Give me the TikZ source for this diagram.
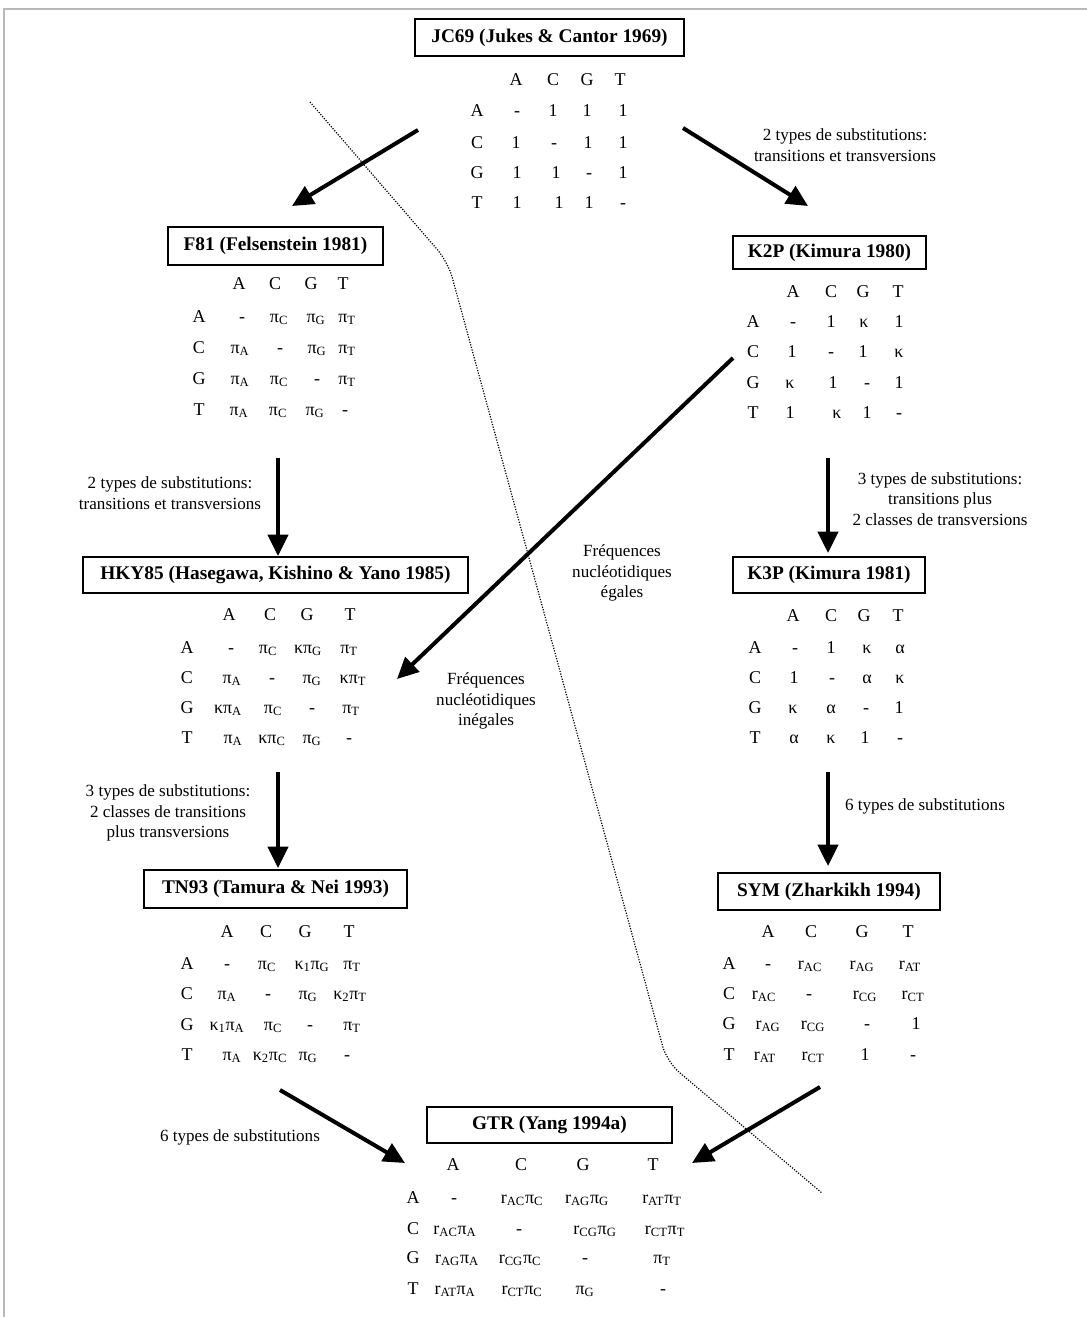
\documentclass[tikz,border=0pt]{standalone}
\usepackage{fontspec}
\setmainfont{Liberation Serif}
\usetikzlibrary{arrows.meta}
\newcommand\pis[1]{π\textsubscript{#1}}
\newcommand\rsub[1]{r\textsubscript{#1}}
\newcommand\mhead[3]{\foreach \l/\x in {#3} \node[cell] (#1h\l) at (\x,#2) {\l};}
\newcommand\mrow[5]{%
  \node[cell] (#1#2) at (#3,#4) {#2};
  \foreach \e/\x [count=\k] in {#5} \node[cell] (#1#2\k) at (\x,#4) {\e};}
\begin{document}
\begin{tikzpicture}[x=0.75pt,y=-0.75pt,
  cell/.style={anchor=base,inner sep=0pt,font=\fontsize{13.5}{16}\selectfont},
  model/.style 2 args={draw,line width=1.1pt,inner sep=0pt,minimum width=#1*0.75pt,minimum height=#2*0.75pt,font=\bfseries\fontsize{14.5}{17}\selectfont},
  lab/.style={align=center,inner sep=0pt,font=\fontsize{12.8}{15.4}\selectfont},
  arr/.style={line width=3pt,-{Triangle[length=16pt,width=15pt]}},
  sep/.style={line width=0.9pt,dash pattern=on 0.9pt off 1.1pt,rounded corners=12pt}]
\fill[white] (0,0) rectangle (1087,1317);
\useasboundingbox (0,0) rectangle (1087,1317);
\draw[gray!55,line width=1.5pt] (4,1317) -- (4,8.5) -- (1087,8.5);

% separating dotted line
\draw[sep] (310,102) -- (448,262) -- (667,1062) -- (822,1193);

% model boxes
\node[model={269}{37}] (jc) at (549.5,37.5) {JC69 (Jukes \& Cantor 1969)};
\node[model={215}{38}] (f81) at (275.5,246) {F81 (Felsenstein 1981)};
\node[model={193}{33}] (k2p) at (829.5,252.5) {K2P (Kimura 1980)};
\node[model={385}{36}] (hky) at (275.5,575) {HKY85 (Hasegawa, Kishino \& Yano 1985)};
\node[model={192}{36}] (k3p) at (829,575) {K3P (Kimura 1981)};
\node[model={263}{38}] (tn) at (275.5,889) {TN93 (Tamura \& Nei 1993)};
\node[model={222}{37}] (sym) at (829,891.5) {SYM (Zharkikh 1994)};
\node[model={245}{36}] (gtr) at (549.5,1125) {GTR (Yang 1994a)};

% JC69 matrix
\mhead{jc}{85}{A/516,C/553,G/587,T/620}
\mrow{jc}{A}{477}{116}{-/517,1/553,1/587,1/623}
\mrow{jc}{C}{477}{148}{1/516,-/554,1/588,1/623}
\mrow{jc}{G}{477}{178}{1/517,1/556,-/589,1/623}
\mrow{jc}{T}{477}{208}{1/517,1/559,1/589,-/623}

% F81 matrix
\mhead{fe}{289}{A/239,C/275,G/311,T/343}
\mrow{fe}{A}{199}{322}{-/242,\pis{C}/279,\pis{G}/316,\pis{T}/347}
\mrow{fe}{C}{199}{353}{\pis{A}/240,-/280,\pis{G}/317,\pis{T}/347}
\mrow{fe}{G}{199}{384}{\pis{A}/240,\pis{C}/279,-/317,\pis{T}/347}
\mrow{fe}{T}{199}{415}{\pis{A}/239,\pis{C}/278,\pis{G}/315,-/345}

% K2P matrix
\mhead{kb}{297}{A/793,C/831,G/863,T/898}
\mrow{kb}{A}{753}{327}{-/793,1/831,κ/864,1/899}
\mrow{kb}{C}{753}{357}{1/792,-/831,1/863,κ/899}
\mrow{kb}{G}{753}{388}{κ/790,1/833,-/867,1/899}
\mrow{kb}{T}{753}{418}{1/790,κ/837,1/867,-/899}

% HKY85 matrix
\mhead{hk}{620}{A/229,C/270,G/307,T/350}
\mrow{hk}{A}{187}{653}{-/231,\pis{C}/268,κ\pis{G}/308,\pis{T}/349}
\mrow{hk}{C}{187}{683}{\pis{A}/232,-/272,\pis{G}/312,κ\pis{T}/353}
\mrow{hk}{G}{187}{713}{κ\pis{A}/228,\pis{C}/273,-/312,\pis{T}/351}
\mrow{hk}{T}{187}{743}{\pis{A}/233,κ\pis{C}/272,\pis{G}/312,-/349}

% K3P matrix
\mhead{kc}{621}{A/793,C/831,G/864,T/898}
\mrow{kc}{A}{755}{653}{-/795,1/831,κ/867,α/900}
\mrow{kc}{C}{755}{683}{1/794,-/832,α/867,κ/900}
\mrow{kc}{G}{755}{713}{κ/793,α/831,-/866,1/899}
\mrow{kc}{T}{755}{743}{α/794,κ/831,1/865,-/900}

% TN93 matrix
\mhead{tn}{937}{A/227,C/266,G/305,T/349}
\mrow{tn}{A}{187}{969}{-/227,\pis{C}/267,κ\textsubscript{1}\pis{G}/312,\pis{T}/352}
\mrow{tn}{C}{187}{999}{\pis{A}/227,-/268,\pis{G}/308,κ\textsubscript{2}\pis{T}/350}
\mrow{tn}{G}{187}{1030}{κ\textsubscript{1}\pis{A}/227,\pis{C}/273,-/310,\pis{T}/352}
\mrow{tn}{T}{187}{1060}{\pis{A}/232,κ\textsubscript{2}\pis{C}/270,\pis{G}/308,-/347}

% SYM matrix
\mhead{sy}{937}{A/768,C/811,G/862,T/908}
\mrow{sy}{A}{729}{969}{-/768,\rsub{AC}/810,\rsub{AG}/862,\rsub{AT}/910}
\mrow{sy}{C}{729}{999}{\rsub{AC}/764,-/809,\rsub{CG}/865,\rsub{CT}/913}
\mrow{sy}{G}{729}{1029}{\rsub{AG}/768,\rsub{CG}/813,-/867,1/916}
\mrow{sy}{T}{729}{1060}{\rsub{AT}/765,\rsub{CT}/813,1/865,-/913}

% GTR matrix
\mhead{gt}{1170}{A/453,C/521,G/583,T/653}
\mrow{gt}{A}{413}{1203}{-/454,\rsub{AC}\pis{C}/522,\rsub{AG}\pis{G}/587,\rsub{AT}\pis{T}/662}
\mrow{gt}{C}{413}{1234}{\rsub{AC}\pis{A}/455,-/519,\rsub{CG}\pis{G}/595,\rsub{CT}\pis{T}/665}
\mrow{gt}{G}{413}{1263}{\rsub{AG}\pis{A}/457,\rsub{CG}\pis{C}/520,-/585,\pis{T}/662}
\mrow{gt}{T}{413}{1294}{\rsub{AT}\pis{A}/455,\rsub{CT}\pis{C}/522,\pis{G}/585,-/663}

% arrow end points
\coordinate (jcL) at (418,130);   \coordinate (f81in) at (292,206);
\coordinate (jcR) at (683,128);   \coordinate (k2pin) at (808,206);
\coordinate (f81out) at (278,458); \coordinate (hkyin) at (278,556);
\coordinate (k2pout) at (828,458); \coordinate (k3pin) at (828,553);
\coordinate (k2pdiag) at (733,358); \coordinate (hkydiag) at (397,679);
\coordinate (hkyout) at (278,772); \coordinate (tnin) at (278,868);
\coordinate (k3pout) at (828,772); \coordinate (symin) at (828,866);
\coordinate (tnout) at (280,1090); \coordinate (gtrL) at (405,1163);
\coordinate (symout) at (820,1087); \coordinate (gtrR) at (692,1163);

\draw[arr] (jcL) -- (f81in);
\draw[arr] (jcR) -- (k2pin);
\draw[arr] (f81out) -- (hkyin);
\draw[arr] (k2pout) -- (k3pin);
\draw[arr] (k2pdiag) -- (hkydiag);
\draw[arr] (hkyout) -- (tnin);
\draw[arr] (k3pout) -- (symin);
\draw[arr] (tnout) -- (gtrL);
\draw[arr] (symout) -- (gtrR);

% labels
\node[lab] (l1) at (845,145) {2 types de substitutions:\\transitions et transversions};
\node[lab] (l2) at (170,493) {2 types de substitutions:\\transitions et transversions};
\node[lab] (l3) at (940,499) {3 types de substitutions:\\transitions plus\\2 classes de transversions};
\node[lab] (l4) at (622,573) {Fréquences\\nucléotidiques\\égales};
\node[lab] (l5) at (486,701) {Fréquences\\nucléotidiques\\inégales};
\node[lab] (l6) at (168,813) {3 types de substitutions:\\2 classes de transitions\\plus transversions};
\node[lab] (l7) at (925,806) {6 types de substitutions};
\node[lab] (l8) at (240,1137) {6 types de substitutions};
\end{tikzpicture}
\end{document}
